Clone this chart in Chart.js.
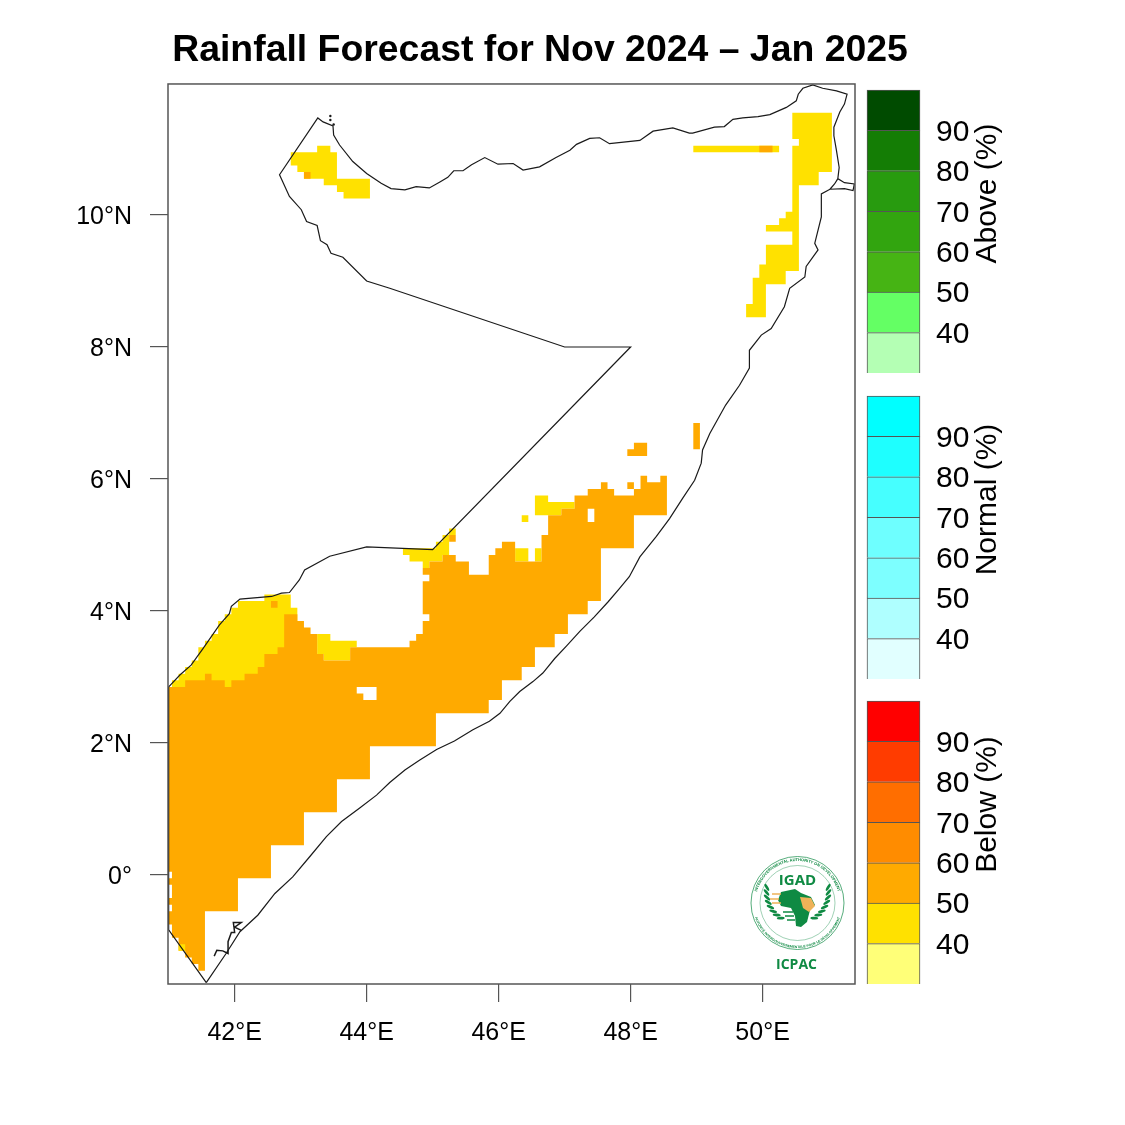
<!DOCTYPE html>
<html>
<head>
<meta charset="utf-8">
<title>Rainfall Forecast</title>
<script src="https://cdn.jsdelivr.net/npm/chart.js@4/dist/chart.umd.min.js"></script>
<style>
  html, body { margin: 0; padding: 0; background: #fff; }
  body { position: relative; width: 1125px; height: 1125px; overflow: hidden; }
  canvas, svg { position: absolute; }
</style>
</head>
<body>
<canvas id="map" width="1080" height="1125" style="left:0;top:0"></canvas>
<canvas id="barAbove" width="170" height="351" style="left:866px;top:56px"></canvas>
<canvas id="barNormal" width="170" height="351" style="left:866px;top:361.5px"></canvas>
<canvas id="barBelow" width="170" height="351" style="left:866px;top:667px"></canvas>
<svg id="logo" width="105" height="125" viewBox="0 0 105 125" style="left:745px;top:850px"></svg>
<script>
const lonTicks = [42, 44, 46, 48, 50];
const latTicks = [0, 2, 4, 6, 8, 10];
const barEdges = [30, 40, 50, 60, 70, 80, 90, 100];
const barTicks = [40, 50, 60, 70, 80, 90];
const aboveColors = ['#b4ffb4', '#64ff64', '#46b414', '#32a50f', '#289b0f', '#147d05', '#004b00'];
const normalColors = ['#e1ffff', '#afffff', '#7dffff', '#6effff', '#46ffff', '#1effff', '#00ffff'];
const belowColors = ['#ffff78', '#ffe100', '#ffaa00', '#ff8c00', '#ff6e00', '#ff3c00', '#ff0000'];

// country outline, [lon, lat]
const border = [
  [41.57,-1.63],[41.87,-1.19],[42.08,-0.86],[42.35,-0.61],[42.61,-0.28],[42.88,-0.03],[43.14,0.28],[43.39,0.58],
  [43.62,0.81],[43.89,1.01],[44.15,1.21],[44.35,1.40],[44.58,1.59],[44.80,1.74],[45.06,1.90],[45.33,2.03],
  [45.61,2.20],[45.86,2.33],[46.02,2.45],[46.17,2.63],[46.32,2.78],[46.52,2.93],[46.67,3.06],[46.85,3.28],
  [47.03,3.47],[47.23,3.69],[47.45,3.91],[47.66,4.14],[47.83,4.34],[47.98,4.52],[48.14,4.82],[48.39,5.13],
  [48.59,5.40],[48.79,5.71],[48.97,5.98],[49.07,6.24],[49.09,6.44],[49.20,6.69],[49.44,7.12],[49.65,7.42],
  [49.80,7.68],[49.80,7.95],[49.98,8.18],[50.13,8.28],[50.33,8.61],[50.41,8.89],[50.64,9.06],[50.66,9.22],
  [50.84,9.47],[50.79,9.57],[50.89,9.97],[50.89,10.23],[50.89,10.32],[51.02,10.39],[51.24,10.40],[51.37,10.37],
  [51.39,10.47],[51.24,10.49],[51.14,10.55],[51.09,10.47],[51.02,10.39],[51.09,10.47],[51.14,10.55],[51.16,10.72],
  [51.12,10.97],[51.08,11.20],[51.08,11.33],[51.17,11.56],[51.24,11.68],[51.28,11.83],[51.12,11.88],[50.91,11.92],
  [50.76,11.97],[50.61,11.92],[50.54,11.83],[50.51,11.73],[50.36,11.63],[50.11,11.52],[49.93,11.49],[49.70,11.47],
  [49.55,11.45],[49.42,11.34],[49.27,11.33],[48.94,11.24],[48.89,11.24],[48.64,11.32],[48.34,11.27],[48.14,11.13],
  [47.68,11.08],[47.53,11.17],[47.38,11.16],[47.18,11.07],[47.08,10.98],[46.87,10.87],[46.62,10.73],[46.37,10.68],
  [46.22,10.78],[45.99,10.77],[45.79,10.87],[45.59,10.76],[45.46,10.67],[45.32,10.67],[45.23,10.57],[45.11,10.50],
  [44.95,10.41],[44.75,10.43],[44.58,10.38],[44.37,10.40],[44.22,10.48],[44.00,10.63],[43.79,10.81],[43.59,11.06],
  [43.50,11.21],[43.49,11.35],[43.34,11.41],[43.26,11.47],[42.68,10.61],[42.73,10.50],[42.83,10.28],[43.01,10.08],
  [43.09,9.90],[43.25,9.84],[43.30,9.61],[43.40,9.55],[43.46,9.42],[43.64,9.36],[44.00,9.00],[44.35,8.89],
  [47.00,8.00],[48.00,8.00],[45.00,4.93],[44.00,4.97],[43.44,4.83],[43.06,4.62],[42.98,4.47],[42.83,4.28],
  [42.71,4.27],[42.56,4.22],[42.08,4.18],[41.95,4.07],[41.92,3.96],[41.77,3.79],[41.52,3.43],[41.34,3.18],
  [41.17,3.03],[41.00,2.85],[41.00,-0.83],[41.57,-1.63]
];
const bajuniIslands = [
  [41.69,-1.23],[41.73,-1.14],[41.82,-1.15],[41.90,-1.19],[41.90,-1.01],[41.95,-0.87],[42.00,-0.87],
  [41.98,-0.72],[42.10,-0.72],[42.00,-0.79],[42.10,-0.84]
];
const sadDinIslands = [[43.45,11.50],[43.45,11.44],[43.50,11.37]];

// 50-60 % below normal, the large block
const orangeMain = [
  [41,2.85],[41.25,2.85],[41.25,2.95],[41.55,2.95],[41.55,3.05],[41.65,3.05],[41.65,2.95],[41.85,2.95],[41.85,2.85],
  [41.95,2.85],[41.95,2.95],[42.15,2.95],[42.15,3.05],[42.35,3.05],[42.35,3.15],[42.45,3.15],[42.45,3.35],[42.65,3.35],
  [42.65,3.45],[42.75,3.45],[42.75,3.95],[42.95,3.95],[42.95,3.85],[43.05,3.85],[43.05,3.75],[43.15,3.75],[43.15,3.65],
  [43.25,3.65],[43.25,3.35],[43.35,3.35],[43.35,3.25],[43.75,3.25],[43.75,3.45],[44.65,3.45],[44.65,3.55],[44.75,3.55],
  [44.75,3.65],[44.85,3.65],[44.85,3.85],[44.95,3.85],[44.95,3.95],[44.85,3.95],[44.85,4.45],[44.95,4.45],[44.95,4.55],
  [44.85,4.55],[44.85,4.65],[44.95,4.65],[44.95,4.75],[45.15,4.75],[45.15,4.85],[45.35,4.85],[45.35,4.75],[45.55,4.75],
  [45.55,4.55],[45.85,4.55],[45.85,4.85],[45.95,4.85],[45.95,4.95],[46.05,4.95],[46.05,5.05],[46.25,5.05],[46.25,4.75],
  [46.65,4.75],[46.65,5.15],[46.75,5.15],[46.75,5.45],[46.95,5.45],[46.95,5.55],[47.15,5.55],[47.15,5.75],[47.35,5.75],
  [47.35,5.85],[47.55,5.85],[47.55,5.95],[47.65,5.95],[47.65,5.85],[47.75,5.85],[47.75,5.75],[48.05,5.75],[48.05,5.85],
  [48.15,5.85],[48.15,6.05],[48.25,6.05],[48.25,5.95],[48.45,5.95],[48.45,6.05],[48.55,6.05],[48.55,5.45],[48.05,5.45],
  [48.05,4.95],[47.55,4.95],[47.55,4.15],[47.35,4.15],[47.35,3.95],[47.05,3.95],[47.05,3.65],[46.85,3.65],[46.85,3.45],
  [46.55,3.45],[46.55,3.15],[46.35,3.15],[46.35,2.95],[46.05,2.95],[46.05,2.65],[45.85,2.65],[45.85,2.45],[45.05,2.45],
  [45.05,1.95],[44.05,1.95],[44.05,1.45],[43.55,1.45],[43.55,0.95],[43.05,0.95],[43.05,0.45],[42.55,0.45],[42.55,-0.05],
  [42.05,-0.05],[42.05,-0.55],[41.55,-0.55],[41.55,-1.45],[41.45,-1.45],[41.45,-1.35],[41.35,-1.35],[41.35,-1.25],
  [41.25,-1.25],[41.25,-1.15],[41.15,-1.15],[41.15,-0.95],[41.05,-0.95],[41.05,-0.75],[41,-0.75],[41,-0.55],[41.05,-0.55],
  [41.05,-0.45],[41,-0.45],[41,-0.35],[41.05,-0.35],[41.05,-0.15],[41,-0.15],[41,-0.05],[41.05,-0.05],[41.05,0.05],[41,0.05]
];
const orangeGedo = [[42.55,4.15],[42.65,4.15],[42.65,4.05],[42.55,4.05]];
const orangeBorderCell = [[45.25,5.15],[45.35,5.15],[45.35,5.05],[45.25,5.05]];
const orangeIsland1 = [[47.95,6.45],[48.05,6.45],[48.05,6.55],[48.25,6.55],[48.25,6.35],[47.95,6.35]];
const orangeIsland2 = [[47.95,5.95],[48.05,5.95],[48.05,5.85],[47.95,5.85]];
const orangeIsland3 = [[48.95,6.85],[49.05,6.85],[49.05,6.45],[48.95,6.45]];
const orangeNwCell = [[43.05,10.65],[43.15,10.65],[43.15,10.55],[43.05,10.55]];
const orangeStripCell = [[49.95,11.05],[50.15,11.05],[50.15,10.95],[49.95,10.95]];

// 40-50 % below normal
const yellowGedo = [
  [41,2.85],[41.05,2.85],[41.05,2.95],[41.15,2.95],[41.15,3.05],[41.25,3.05],[41.25,3.15],[41.35,3.15],[41.35,3.25],
  [41.45,3.25],[41.45,3.45],[41.55,3.45],[41.55,3.55],[41.65,3.55],[41.65,3.65],[41.75,3.65],[41.75,3.85],[41.85,3.85],
  [41.85,3.95],[41.95,3.95],[41.95,4.05],[42.05,4.05],[42.05,4.15],[42.45,4.15],[42.45,4.25],[42.85,4.25],[42.85,4.05],
  [42.95,4.05],[42.95,3.8],[42.9,3.5],[42.5,2.8],[41.2,2.7]
];
const yellowBay = [
  [43.25,3.65],[43.45,3.65],[43.45,3.55],[43.85,3.55],[43.85,3.45],[43.75,3.45],[43.75,3.25],[43.35,3.25],[43.35,3.35],[43.25,3.35]
];
const yellowLuuq = [
  [44.55,4.95],[45.05,4.95],[45.05,5.05],[45.15,5.05],[45.15,5.15],[45.25,5.15],[45.25,5.25],[45.35,5.25],[45.35,5.15],
  [45.25,5.15],[45.25,4.85],[45.15,4.85],[45.15,4.75],[44.95,4.75],[44.95,4.65],[44.85,4.65],[44.85,4.75],[44.65,4.75],
  [44.65,4.85],[44.55,4.85]
];
const yellowCell1 = [[46.25,4.95],[46.45,4.95],[46.45,4.75],[46.25,4.75]];
const yellowCell2 = [[46.55,4.95],[46.65,4.95],[46.65,4.75],[46.55,4.75]];
const yellowCell3 = [[46.35,5.45],[46.45,5.45],[46.45,5.35],[46.35,5.35]];
const yellowCentral = [
  [46.55,5.75],[46.75,5.75],[46.75,5.65],[47.15,5.65],[47.15,5.55],[46.95,5.55],[46.95,5.45],[46.55,5.45]
];
const yellowSouthCell = [[41.15,-1.05],[41.25,-1.05],[41.25,-1.15],[41.15,-1.15]];
const yellowNw = [
  [42.85,10.95],[43.25,10.95],[43.25,11.05],[43.45,11.05],[43.45,10.95],[43.55,10.95],[43.55,10.55],[44.05,10.55],
  [44.05,10.25],[43.65,10.25],[43.65,10.35],[43.55,10.35],[43.55,10.45],[43.35,10.45],[43.35,10.55],[43.05,10.55],
  [43.05,10.65],[42.95,10.65],[42.95,10.75],[42.85,10.75]
];
const yellowStrip = [[48.95,11.05],[50.25,11.05],[50.25,10.95],[48.95,10.95]];
const yellowNe = [
  [50.45,11.55],[51.05,11.55],[51.05,10.65],[50.85,10.65],[50.85,10.45],[50.55,10.45],[50.55,9.15],[50.35,9.15],
  [50.35,8.95],[50.05,8.95],[50.05,8.45],[49.75,8.45],[49.75,8.65],[49.85,8.65],[49.85,9.05],[49.95,9.05],[49.95,9.25],
  [50.05,9.25],[50.05,9.55],[50.45,9.55],[50.45,9.75],[50.05,9.75],[50.05,9.85],[50.25,9.85],[50.25,9.95],[50.35,9.95],
  [50.35,10.05],[50.45,10.05],[50.45,11.05],[50.55,11.05],[50.55,11.15],[50.45,11.15]
];

// no-forecast gaps inside the large block
const gapWest = [[43.85,2.85],[44.15,2.85],[44.15,2.65],[43.95,2.65],[43.95,2.75],[43.85,2.75]];
const gapEast = [[47.35,5.55],[47.45,5.55],[47.45,5.35],[47.35,5.35]];

const pts = a => a.map(p => ({ x: p[0], y: p[1] }));
const patch = (a, color) => ({
  data: pts(a), showLine: true, fill: 'shape', backgroundColor: color,
  borderColor: color, borderWidth: 0, pointRadius: 0
});
const outline = (a, w) => ({
  data: pts(a), showLine: true, fill: false, borderColor: '#1a1a1a',
  borderWidth: w, pointRadius: 0, tension: 0
});

const frame = {
  id: 'frame',
  afterDraw(chart) {
    const { ctx, chartArea: a } = chart;
    ctx.save();
    ctx.strokeStyle = '#555';
    ctx.lineWidth = 1.5;
    ctx.strokeRect(a.left, a.top, a.right - a.left, a.bottom - a.top);
    ctx.restore();
  }
};

const ORANGE = '#ffaa00', YELLOW = '#ffe100';

new Chart(document.getElementById('map'), {
  type: 'scatter',
  data: {
    // first dataset ends up on top
    datasets: [
      outline(border, 1.2),
      outline(bajuniIslands, 1.5),
      { data: pts(sadDinIslands), pointRadius: 1.2, pointBackgroundColor: '#1a1a1a', pointBorderWidth: 0 },
      patch(orangeGedo, ORANGE), patch(orangeBorderCell, ORANGE), patch(orangeIsland1, ORANGE),
      patch(orangeIsland2, ORANGE), patch(orangeIsland3, ORANGE), patch(orangeNwCell, ORANGE),
      patch(orangeStripCell, ORANGE), patch(yellowSouthCell, YELLOW),
      patch(gapWest, '#ffffff'), patch(gapEast, '#ffffff'),
      patch(orangeMain, ORANGE),
      patch(yellowGedo, YELLOW), patch(yellowBay, YELLOW), patch(yellowLuuq, YELLOW),
      patch(yellowCell1, YELLOW), patch(yellowCell2, YELLOW), patch(yellowCell3, YELLOW),
      patch(yellowCentral, YELLOW), patch(yellowNw, YELLOW), patch(yellowStrip, YELLOW), patch(yellowNe, YELLOW)
    ]
  },
  options: {
    responsive: false,
    animation: false,
    devicePixelRatio: 1,
    layout: { autoPadding: false, padding: { left: 0, right: 0, top: 0, bottom: 81 } },
    plugins: {
      legend: { display: false },
      tooltip: { enabled: false },
      title: {
        display: true,
        text: 'Rainfall Forecast for Nov 2024 – Jan 2025',
        color: '#000',
        font: { family: 'Liberation Sans', size: 37.4, weight: 'bold', lineHeight: 1.2 },
        padding: { top: 28, bottom: 11.1 }
      }
    },
    scales: {
      x: {
        type: 'linear', min: 40.99, max: 51.4,
        afterBuildTicks: s => { s.ticks = lonTicks.map(v => ({ value: v })); },
        afterFit: s => { s.height = 60; },
        border: { display: false },
        grid: { drawOnChartArea: false, tickLength: 18, color: '#555', lineWidth: 1.2 },
        ticks: {
          autoSkip: false, maxRotation: 0, padding: 16, color: '#000',
          font: { family: 'Liberation Sans', size: 25 },
          callback: v => v + '°E'
        }
      },
      y: {
        type: 'linear', min: -1.652, max: 11.985,
        afterBuildTicks: s => { s.ticks = latTicks.map(v => ({ value: v })); },
        afterFit: s => { s.width = 168; },
        border: { display: false },
        grid: { drawOnChartArea: false, tickLength: 18, color: '#555', lineWidth: 1.2 },
        ticks: {
          autoSkip: false, padding: 18, labelOffset: 2, color: '#000',
          font: { family: 'Liberation Sans', size: 25 },
          callback: v => (v === 0 ? '0°' : v + '°N')
        }
      },
      // empty axis, keeps the title centred over the whole canvas
      spacer: {
        type: 'linear', position: 'right',
        afterFit: s => { s.width = 225; },
        border: { display: false },
        grid: { display: false },
        ticks: { display: false }
      }
    }
  },
  plugins: [frame]
});

const barTitle = {
  id: 'barTitle',
  afterDraw(chart, args, opts) {
    const { ctx, chartArea: a } = chart;
    ctx.save();
    ctx.translate(122, (a.top + a.bottom) / 2 - 38);
    ctx.rotate(-Math.PI / 2);
    ctx.font = '30px "Liberation Sans"';
    ctx.fillStyle = '#000';
    ctx.textAlign = 'center';
    ctx.textBaseline = 'middle';
    ctx.fillText(opts.text, 0, 0);
    ctx.restore();
  }
};

function colorBar(id, colors, text) {
  new Chart(document.getElementById(id), {
    type: 'bar',
    data: {
      labels: [''],
      datasets: colors.map((c, i) => ({
        data: [[barEdges[i], barEdges[i + 1]]],
        backgroundColor: c,
        borderColor: '#555',
        borderWidth: 1,
        grouped: false,
        clip: false,
        barPercentage: 1,
        categoryPercentage: 1
      }))
    },
    options: {
      responsive: false,
      animation: false,
      devicePixelRatio: 1,
      layout: { autoPadding: false, padding: { top: 18, bottom: 18, left: 1 } },
      plugins: {
        legend: { display: false },
        tooltip: { enabled: false },
        barTitle: { text }
      },
      scales: {
        x: { display: false },
        y: {
          position: 'right', min: 30, max: 100,
          afterBuildTicks: s => { s.ticks = barTicks.map(v => ({ value: v })); },
          afterFit: s => { s.width = 116; },
          border: { display: false },
          grid: { display: false, drawTicks: false },
          ticks: {
            padding: 16, labelOffset: 2, color: '#000', autoSkip: false,
            font: { family: 'Liberation Sans', size: 30 }
          }
        }
      }
    },
    plugins: [barTitle]
  });
}
colorBar('barAbove', aboveColors, 'Above (%)');
colorBar('barNormal', normalColors, 'Normal (%)');
colorBar('barBelow', belowColors, 'Below (%)');

// IGAD / ICPAC seal
const GREEN = '#0f8a43', SAND = '#eeb258';
let leaves = '';
for (let i = 0; i < 8; i++) {
  const t = (i / 7) * 1.15 - 0.15;
  const lx = 52.5 - 31 * Math.cos(t), ly = 42 + 31 * Math.sin(t);
  const rx = 52.5 + 31 * Math.cos(t);
  leaves += `<ellipse cx="${lx}" cy="${ly}" rx="4" ry="1.4" fill="${GREEN}" transform="rotate(${60 - i * 9} ${lx} ${ly})"/>`;
  leaves += `<ellipse cx="${rx}" cy="${ly}" rx="4" ry="1.4" fill="${GREEN}" transform="rotate(${-60 + i * 9} ${rx} ${ly})"/>`;
}
document.getElementById('logo').innerHTML = `
  <defs>
    <path id="arcTop" d="M 10.5 53 A 42 42 0 0 1 94.5 53"/>
    <path id="arcBot" d="M 7.5 53 A 45 45 0 0 0 97.5 53"/>
  </defs>
  <circle cx="52.5" cy="53" r="46.5" fill="#fff" stroke="${GREEN}" stroke-width="0.7"/>
  <circle cx="52.5" cy="53" r="37.5" fill="none" stroke="${GREEN}" stroke-width="0.4"/>
  <text font-family="Liberation Sans" font-size="4" font-weight="bold" fill="${GREEN}" text-anchor="middle">
    <textPath href="#arcTop" startOffset="50%">INTERGOVERNMENTAL AUTHORITY ON DEVELOPMENT</textPath></text>
  <text font-family="Liberation Sans" font-size="3.4" font-weight="bold" fill="${GREEN}" text-anchor="middle">
    <textPath href="#arcBot" startOffset="50%">AUTORITÉ INTERGOUVERNEMENTALE POUR LE DÉVELOPPEMENT</textPath></text>
  <text x="52.5" y="35" font-family="Open Sans" font-size="15" font-weight="bold" fill="${GREEN}" text-anchor="middle">IGAD</text>
  ${leaves}
  <path d="M36 42 L50 39 L56 43 L66 47 L70 55 L65 60 L62 72 L56 77 L51 76 L50 66 L46 58 L36 56 L33 50 Z" fill="${GREEN}"/>
  <path d="M55 47 L66 48 L70 56 L64 62 L58 58 Z" fill="${SAND}"/>
  <path d="M27 44 H36 M25 49 H34 M27 53 H36" stroke="${SAND}" stroke-width="1.6"/>
  <path d="M38 62 H48 M40 66 H49 M42 70 H50" stroke="${GREEN}" stroke-width="1.6"/>
  <text x="51.5" y="119" font-family="Open Sans" font-size="14" font-weight="bold" fill="${GREEN}" text-anchor="middle">ICPAC</text>`;
</script>
</body>
</html>
